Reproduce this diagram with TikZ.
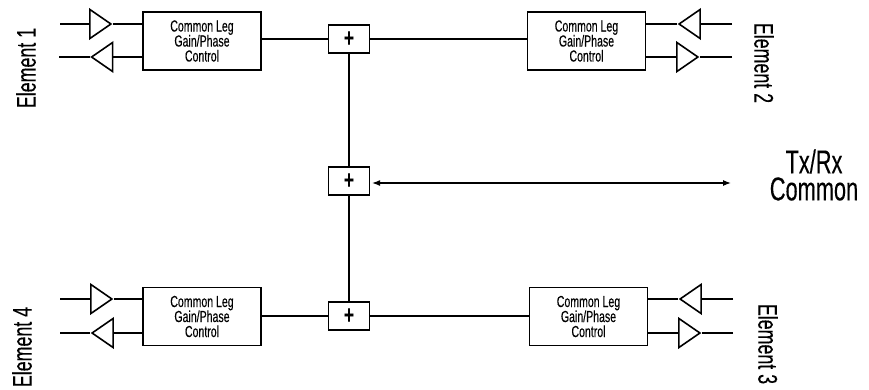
\documentclass[tikz,border=0pt]{standalone}
\usepackage{fontspec}
\setmainfont[FakeStretch=0.66, FakeBold=0.25]{Liberation Sans}
\usetikzlibrary{shapes.geometric, arrows.meta}
\tikzset{
	gainbox/.style={draw, line width=1.5pt, minimum width=118pt, minimum height=58pt, inner sep=0pt, align=center, font=\fontsize{16}{15}\selectfont},
	sumbox/.style={draw, line width=1.2pt, minimum width=41pt, minimum height=28pt, inner sep=0pt, font=\bfseries\fontsize{26}{26}\selectfont},
	amp/.style={draw, line width=1.6pt, isosceles triangle, isosceles triangle stretches, minimum width=29pt, minimum height=21pt, inner sep=0pt},
	ampright/.style={amp, shape border rotate=0, anchor=apex},
	ampleft/.style={amp, shape border rotate=180, anchor=apex},
	wire/.style={line width=1.2pt},
	elem/.style={font=\fontsize{27}{27}\selectfont},
}
\begin{document}
\begin{tikzpicture}[x=1pt, y=-1pt]
	\useasboundingbox (0,0) rectangle (869,389);

	% gain/phase blocks
	\node[gainbox] (gainA) at (202,41) {Common Leg\\Gain/Phase\\Control};
	\node[gainbox] (gainB) at (586.5,41) {Common Leg\\Gain/Phase\\Control};
	\node[gainbox] (gainC) at (588.5,316.5) {Common Leg\\Gain/Phase\\Control};
	\node[gainbox] (gainD) at (202,316.5) {Common Leg\\Gain/Phase\\Control};

	% summers
	\node[sumbox] (sumTop) at (349,39) {+};
	\node[sumbox] (sumMid) at (349,181) {+};
	\node[sumbox] (sumBot) at (349,316) {+};

	% amplifiers
	\node[ampright] (ampA1) at (113,24) {};
	\node[ampleft] (ampA2) at (89.5,57) {};
	\node[ampleft] (ampB1) at (677,24) {};
	\node[ampright] (ampB2) at (700,57) {};
	\node[ampleft] (ampC1) at (678,299) {};
	\node[ampright] (ampC2) at (702,333) {};
	\node[ampright] (ampD1) at (114,299) {};
	\node[ampleft] (ampD2) at (90,333) {};

	% free ends
	\coordinate (endA1) at (60,24);
	\coordinate (endA2) at (59,57);
	\coordinate (endB1) at (732,24);
	\coordinate (endB2) at (732,57);
	\coordinate (endC1) at (733,299);
	\coordinate (endC2) at (733,333);
	\coordinate (endD1) at (60,299);
	\coordinate (endD2) at (60,333);
	\coordinate (common) at (731,183);

	\draw[wire] (endA1)--(ampA1.west |- endA1)  (ampA1.apex)--(ampA1.apex -| gainA.west);
	\draw[wire] (endA2)--(ampA2.apex)  (ampA2.east |- endA2)--(gainA.west |- endA2);
	\draw[wire] (endB1)--(ampB1.east |- endB1)  (ampB1.apex)--(ampB1.apex -| gainB.east);
	\draw[wire] (endB2)--(ampB2.apex)  (ampB2.west |- endB2)--(gainB.east |- endB2);
	\draw[wire] (endC1)--(ampC1.east |- endC1)  (ampC1.apex)--(ampC1.apex -| gainC.east);
	\draw[wire] (endC2)--(ampC2.apex)  (ampC2.west |- endC2)--(gainC.east |- endC2);
	\draw[wire] (endD1)--(ampD1.west |- endD1)  (ampD1.apex)--(ampD1.apex -| gainD.west);
	\draw[wire] (endD2)--(ampD2.apex)  (ampD2.east |- endD2)--(gainD.west |- endD2);

	\draw[wire] (gainA.east |- sumTop)--(sumTop)--(gainB.west |- sumTop);
	\draw[wire] (gainD.east |- sumBot)--(sumBot)--(gainC.west |- sumBot);
	\draw[wire] (sumTop)--(sumMid)--(sumBot);
	\draw[wire, {Latex[length=8pt,width=6pt]}-{Latex[length=8pt,width=6pt]}, shorten <=2pt] (sumMid.east |- common)--(common);

	% labels
	\node[elem, rotate=90] (labelA) at (26,68) {Element 1};
	\node[elem, rotate=-90] (labelB) at (764,63) {Element 2};
	\node[elem, rotate=-90] (labelC) at (768,344) {Element 3};
	\node[elem, rotate=90] (labelD) at (22,347) {Element 4};
	\node[align=center, font=\fontsize{33}{27}\selectfont] (labelCommon) at (814,175) {Tx/Rx\\Common};
\end{tikzpicture}
\end{document}
